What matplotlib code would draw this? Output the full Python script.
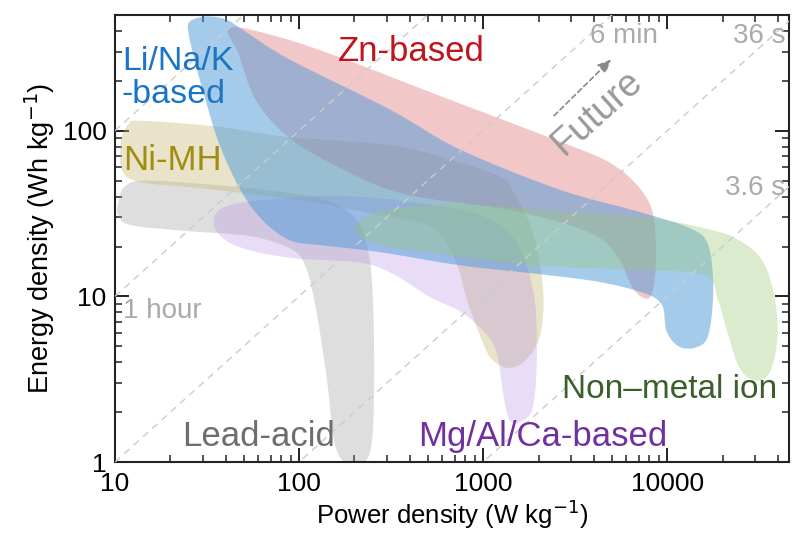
import numpy as np
import matplotlib
matplotlib.use("Agg")
import matplotlib.pyplot as plt
from matplotlib.path import Path
from matplotlib.patches import PathPatch
from matplotlib.ticker import FixedLocator, NullFormatter, LogLocator

plt.rcParams['font.family'] = ['Liberation Sans', 'DejaVu Sans']

# ---------------- data ----------------
# Blob outlines: (power density W/kg, energy density Wh/kg)
zn_P = [42, 79, 167, 659, 2620, 4900, 7100, 8400, 8700, 8300, 7600, 6500, 5530, 4310, 2620, 1240, 355, 147, 84, 58, 47]
zn_E = [420, 366, 277, 154, 86, 64, 45, 31, 16.5, 10.6, 9.7, 11.2, 16.5, 22.5, 28, 34, 42, 64, 95, 154, 289]

li_P = [25.6, 31, 40, 51, 89, 313, 750, 2620, 7100, 13300, 16700, 17800, 16700, 14200, 11500, 9900, 9400, 7600, 4310, 2040, 750, 275, 130, 89, 63, 48, 37, 31, 27, 25]
li_E = [458, 490, 470, 398, 269, 134, 77, 44, 32.3, 25.8, 20.4, 10.9, 5.8, 4.9, 5.0, 6.2, 8.8, 10.4, 12.2, 13.6, 15.4, 18.5, 20.4, 21.8, 29, 44, 82, 154, 269, 398]

ni_P = [11.8, 13.7, 36, 86, 313, 659, 1240, 1490, 1870, 2120, 2040, 1690, 1350, 1090, 940, 818, 705, 535, 275, 101, 29, 13.7, 10.9, 10.8]
ni_E = [109, 115, 106, 92, 82, 67, 52.6, 41, 24, 10.9, 5.8, 4.1, 3.7, 4.3, 6.2, 9.5, 16.5, 26, 31, 38, 45, 49, 58, 88]

pb_P = [10.4, 11.3, 15.5, 54, 130, 200, 237, 252, 256, 249, 225, 178, 155, 142, 124, 108, 89, 54, 22.5, 12.1, 10.4]
pb_E = [36, 46, 50, 45, 39, 30, 19, 9.5, 3.1, 1.34, 0.99, 0.99, 1.34, 3.1, 8.2, 15.4, 19.5, 23.1, 25, 27, 31]

mg_P = [34.5, 38, 61, 167, 453, 962, 1490, 1870, 1960, 1870, 1630, 1400, 1290, 1210, 1090, 780, 515, 252, 93, 54, 40]
mg_E = [27, 34, 38, 40.4, 36.6, 31, 21.8, 10.9, 4.7, 2.18, 1.77, 1.77, 2.5, 4.1, 5.56, 7.9, 9.9, 15.4, 17, 19, 21.8]

nm_P = [200, 259, 659, 2310, 8030, 15000, 23400, 32800, 38600, 39600, 36000, 30000, 24800, 21500, 18900, 16100, 8030, 2310, 659, 275]
nm_E = [25, 32, 36, 33, 29.7, 26.2, 22.5, 16.5, 9.5, 5.4, 3.46, 3.1, 3.67, 5.8, 9.5, 13.4, 14.4, 15.2, 17.7, 20.4]

# constant discharge-time lines (hours): E = P * t
time_h = [10, 1, 0.1, 0.01, 0.001]

x_ticks = [10, 100, 1000, 10000]
x_ticklabels = ["10", "100", "1000", "10000"]
y_ticks = [1, 10, 100]
y_ticklabels = ["1", "10", "100"]


def smooth_closed_path(P, E):
    pts = np.column_stack([np.log10(P), np.log10(E)])
    n = len(pts)
    verts = [pts[0]]
    codes = [Path.MOVETO]
    for i in range(n):
        p0 = pts[(i - 1) % n]
        p1 = pts[i]
        p2 = pts[(i + 1) % n]
        p3 = pts[(i + 2) % n]
        c1 = p1 + (p2 - p0) / 6.0
        c2 = p2 - (p3 - p1) / 6.0
        verts += [c1, c2, p2]
        codes += [Path.CURVE4] * 3
    return Path(10 ** np.array(verts), codes)


fig = plt.figure(figsize=(7.92, 5.33), dpi=100)
ax = fig.add_axes([0.1452, 0.1332, 0.8512, 0.8387])
ax.set_xscale('log')
ax.set_yscale('log')
ax.set_xlim(10, 46000)
ax.set_ylim(1, 500)

blobs = [
    (pb_P, pb_E, (0.6, 0.6, 0.6), 0.32),
    (ni_P, ni_E, (0.78, 0.72, 0.45), 0.38),
    (mg_P, mg_E, (0.70, 0.55, 0.90), 0.30),
    (zn_P, zn_E, (0.88, 0.45, 0.45), 0.40),
    (li_P, li_E, (0.30, 0.60, 0.85), 0.50),
    (nm_P, nm_E, (0.60, 0.78, 0.45), 0.35),
]
for P, E, col, a in blobs:
    ax.add_patch(PathPatch(smooth_closed_path(P, E), facecolor=col, alpha=a,
                           edgecolor='none', zorder=2))

xs = np.array(ax.get_xlim())
for t in time_h:
    ax.plot(xs, xs * t, ls=(0, (5, 4)), color='#cccccc', lw=1.0, zorder=3)

# ticks
for axis, ticks, labels in ((ax.xaxis, x_ticks, x_ticklabels), (ax.yaxis, y_ticks, y_ticklabels)):
    axis.set_major_locator(FixedLocator(ticks))
    axis.set_minor_locator(LogLocator(base=10, subs=np.arange(2, 10)))
    axis.set_minor_formatter(NullFormatter())
ax.set_xticklabels(x_ticklabels)
ax.set_yticklabels(y_ticklabels)
ax.tick_params(which='both', direction='in', top=True, right=True, color='#222222')
ax.tick_params(which='major', length=10, width=1.4, labelsize=19)
ax.tick_params(axis='x', which='major', pad=7)
ax.tick_params(axis='y', which='major', pad=6)
ax.tick_params(which='minor', length=5, width=1.1)
for s in ax.spines.values():
    s.set_linewidth(1.5)
    s.set_color('#222222')

ax.set_xlabel('Power density (W kg$^{-1}$)', fontsize=18.5, labelpad=1)
ax.set_ylabel('Energy density (Wh kg$^{-1}$)', fontsize=19.5, labelpad=4)

# category labels
fs = 25
ax.text(11.0, 232, 'Li/Na/K', color='#1c74c4', fontsize=24.5, va='baseline', ha='left', zorder=5)
ax.text(10.8, 148, '-based', color='#1c74c4', fontsize=24.5, va='baseline', ha='left', zorder=5)
ax.text(163, 262, 'Zn-based', color='#c0141c', fontsize=fs, va='baseline', ha='left', zorder=5)
ax.text(11.05, 58, 'Ni-MH', color='#a08c10', fontsize=fs, va='baseline', ha='left', zorder=5)
ax.text(23.1, 1.25, 'Lead-acid', color='#6e6e6e', fontsize=fs, va='baseline', ha='left', zorder=5)
ax.text(444, 1.25, 'Mg/Al/Ca-based', color='#7030a0', fontsize=fs, va='baseline', ha='left', zorder=5)
ax.text(2690, 2.44, 'Non\u2013metal ion', color='#3b5e2b', fontsize=24, va='baseline', ha='left', zorder=5)

# time labels
tc = '#aaaaaa'
ax.text(3820, 341, '6 min', color=tc, fontsize=20, va='baseline', ha='left', zorder=5)
ax.text(43700, 341, '36 s', color=tc, fontsize=20, va='baseline', ha='right', zorder=5)
ax.text(43700, 41, '3.6 s', color=tc, fontsize=20, va='baseline', ha='right', zorder=5)
ax.text(11.05, 7.4, '1 hour', color=tc, fontsize=20, va='baseline', ha='left', zorder=5)

ax.text(4170, 130, 'Future', color='#999999', fontsize=27, rotation=42,
        ha='center', va='center', rotation_mode='anchor', zorder=5)
ax.annotate('', xy=(5090, 277), xytext=(2370, 120),
            arrowprops=dict(arrowstyle='-|>,head_length=0.8,head_width=0.35', color='#888888',
                            lw=1.2, ls=(0, (3, 2))), zorder=5)

fig.savefig('out.png', dpi=100)
